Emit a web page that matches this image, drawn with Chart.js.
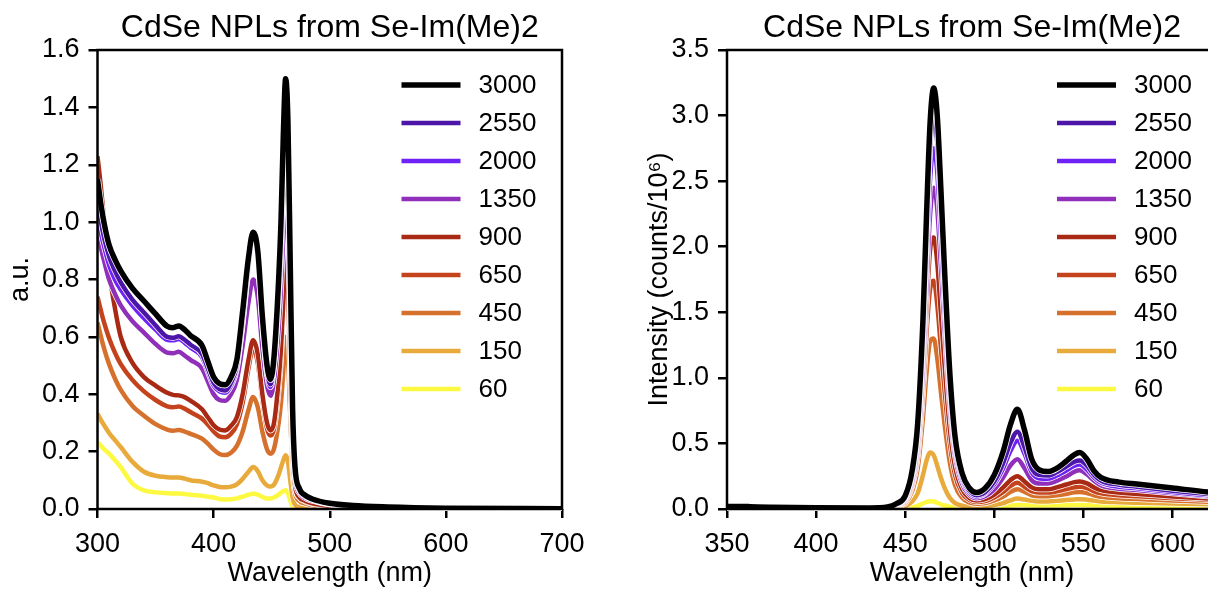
<!DOCTYPE html>
<html>
<head>
<meta charset="utf-8">
<script src="https://cdn.jsdelivr.net/npm/chart.js@4.4.1/dist/chart.umd.min.js"></script>
<style>
  body { margin: 0; background: #fff; overflow: hidden; }
  #wrap { position: relative; width: 1208px; height: 592px; overflow: hidden; }
  #absBox { position: absolute; left: 0; top: 0; }
  #plBox { position: absolute; left: 600px; top: 0; }
</style>
</head>
<body>
<div id="wrap">
  <div id="absBox"><canvas id="graficoAbs" width="600" height="592"></canvas></div>
  <div id="plBox"><canvas id="graficoPL" width="640" height="592"></canvas></div>
</div>
<script>
const titulo = 'CdSe NPLs from Se-Im(Me)2';
const series = ['3000', '2550', '2000', '1350', '900', '650', '450', '150', '60'];
const cores = ['#000000', '#4c17a8', '#6f22f6', '#8f2fba', '#a92a14', '#c5431c', '#d6712d', '#e9aa3c', '#fdf941'];

// absorption (left)
const absX = [300,303,306,310,315,320,330,340,350,360,365,370,375,380,390,395,400,405,410,415,420,425,430,434,438,442,446,449,452,456,458,460,462,464,466,468,470,474,478,485,500,520,550,600,700];
const abs3000 = [1.15,1.06,0.99,0.92,0.87,0.83,0.77,0.725,0.68,0.637,0.632,0.638,0.625,0.605,0.57,0.515,0.46,0.437,0.433,0.46,0.52,0.69,0.875,0.965,0.90,0.67,0.50,0.452,0.53,0.80,1.0,1.3,1.5,1.35,0.85,0.35,0.15,0.07,0.05,0.035,0.02,0.012,0.007,0.003,0.001];
const abs2550 = [1.08,1.0,0.94,0.88,0.83,0.79,0.73,0.685,0.64,0.60,0.597,0.602,0.59,0.573,0.54,0.49,0.44,0.418,0.413,0.44,0.50,0.66,0.85,0.95,0.88,0.65,0.48,0.435,0.51,0.77,0.96,1.25,1.44,1.30,0.82,0.34,0.145,0.068,0.048,0.034,0.019,0.011,0.006,0.003,0.001];
const abs2000 = [1.03,0.96,0.91,0.85,0.80,0.765,0.71,0.665,0.625,0.59,0.588,0.593,0.58,0.563,0.53,0.48,0.43,0.41,0.405,0.43,0.49,0.65,0.84,0.955,0.87,0.64,0.47,0.425,0.50,0.72,0.88,1.10,1.25,1.12,0.72,0.30,0.13,0.062,0.045,0.032,0.018,0.01,0.006,0.003,0.001];
const abs1350 = [0.97,0.91,0.86,0.80,0.75,0.71,0.655,0.615,0.575,0.545,0.543,0.548,0.535,0.52,0.49,0.445,0.40,0.38,0.377,0.40,0.45,0.57,0.72,0.80,0.74,0.56,0.43,0.395,0.45,0.63,0.77,0.95,1.08,0.97,0.62,0.26,0.11,0.055,0.04,0.029,0.016,0.009,0.005,0.002,0.001];
const abs900 = [1.23,1.12,0.99,0.83,0.70,0.60,0.51,0.46,0.43,0.405,0.398,0.396,0.39,0.378,0.348,0.32,0.292,0.277,0.274,0.29,0.32,0.40,0.52,0.588,0.54,0.40,0.30,0.274,0.30,0.45,0.56,0.72,0.90,0.80,0.49,0.20,0.085,0.04,0.03,0.02,0.011,0.006,0.004,0.002,0.001];
const abs650 = [0.74,0.69,0.645,0.595,0.545,0.505,0.45,0.41,0.38,0.358,0.355,0.357,0.35,0.338,0.315,0.295,0.27,0.253,0.25,0.262,0.295,0.37,0.49,0.56,0.51,0.38,0.28,0.256,0.28,0.42,0.53,0.69,0.86,0.75,0.46,0.19,0.08,0.038,0.028,0.018,0.01,0.006,0.003,0.002,0.001];
const abs450 = [0.65,0.60,0.555,0.505,0.455,0.415,0.36,0.325,0.296,0.277,0.273,0.275,0.27,0.262,0.245,0.228,0.207,0.192,0.188,0.196,0.22,0.27,0.345,0.39,0.355,0.27,0.208,0.193,0.21,0.30,0.37,0.48,0.60,0.53,0.33,0.14,0.06,0.028,0.02,0.013,0.007,0.004,0.002,0.001,0];
const abs150 = [0.333,0.31,0.29,0.265,0.24,0.216,0.165,0.13,0.116,0.111,0.11,0.11,0.106,0.10,0.095,0.09,0.082,0.077,0.076,0.078,0.086,0.105,0.13,0.146,0.132,0.10,0.082,0.078,0.085,0.12,0.145,0.17,0.187,0.165,0.10,0.04,0.015,0.006,0.004,0.003,0.002,0.001,0.001,0,0];
const abs60 = [0.233,0.22,0.207,0.193,0.17,0.146,0.089,0.065,0.058,0.055,0.054,0.054,0.052,0.05,0.046,0.043,0.04,0.035,0.033,0.034,0.037,0.043,0.05,0.053,0.05,0.042,0.037,0.037,0.04,0.05,0.057,0.062,0.065,0.055,0.03,0.01,0.003,0.001,0,0,0,0,0,0,0];
const absXTicks = [300, 400, 500, 600, 700];
const absYTicks = [0, 0.2, 0.4, 0.6, 0.8, 1.0, 1.2, 1.4, 1.6];

// photoluminescence (right)
const plX = [350,355,360,363,367,375,400,430,440,445,450,454,457,460,462,464,466,468,470,472,475,478,482,486,490,495,500,505,509,513,517,521,525,530,535,540,545,548,552,556,560,570,580,600,620,640];
const pl3000 = [0.02,0.02,0.02,0.018,0.016,0.014,0.01,0.008,0.015,0.04,0.10,0.30,0.65,1.45,2.25,2.95,3.21,3.0,2.45,1.85,1.05,0.55,0.27,0.16,0.125,0.16,0.26,0.44,0.64,0.76,0.60,0.38,0.30,0.285,0.31,0.36,0.415,0.43,0.38,0.29,0.24,0.205,0.19,0.16,0.13,0.11];
const pl2550 = [0.015,0.015,0.015,0.014,0.013,0.011,0.008,0.006,0.012,0.035,0.09,0.27,0.60,1.35,2.10,2.75,3.0,2.8,2.28,1.72,0.97,0.50,0.24,0.14,0.105,0.13,0.21,0.35,0.50,0.59,0.47,0.31,0.26,0.255,0.28,0.32,0.36,0.37,0.33,0.26,0.215,0.185,0.17,0.14,0.115,0.095];
const pl2000 = [0.015,0.015,0.015,0.013,0.012,0.01,0.007,0.005,0.011,0.032,0.082,0.25,0.55,1.24,1.93,2.52,2.75,2.57,2.09,1.58,0.89,0.46,0.22,0.125,0.095,0.12,0.19,0.31,0.44,0.52,0.42,0.28,0.235,0.23,0.255,0.29,0.33,0.34,0.30,0.24,0.20,0.17,0.158,0.13,0.105,0.088];
const pl1350 = [0.012,0.012,0.012,0.011,0.01,0.009,0.006,0.004,0.01,0.028,0.073,0.22,0.49,1.1,1.72,2.25,2.45,2.29,1.86,1.41,0.79,0.41,0.19,0.11,0.082,0.10,0.15,0.24,0.33,0.38,0.31,0.22,0.195,0.195,0.215,0.245,0.285,0.295,0.265,0.215,0.18,0.155,0.145,0.12,0.098,0.082];
const pl900 = [0.01,0.012,0.014,0.011,0.009,0.008,0.005,0.003,0.008,0.025,0.065,0.20,0.45,1.02,1.55,1.98,2.07,1.88,1.5,1.12,0.62,0.32,0.15,0.085,0.065,0.075,0.11,0.165,0.22,0.25,0.21,0.165,0.15,0.15,0.165,0.185,0.205,0.21,0.195,0.165,0.145,0.125,0.115,0.095,0.08,0.068];
const pl650 = [0.01,0.015,0.02,0.014,0.01,0.008,0.005,0.003,0.007,0.022,0.058,0.18,0.40,0.90,1.35,1.68,1.74,1.56,1.24,0.92,0.51,0.26,0.12,0.07,0.053,0.06,0.088,0.13,0.175,0.20,0.17,0.135,0.125,0.125,0.135,0.15,0.165,0.17,0.16,0.135,0.12,0.105,0.097,0.082,0.07,0.06];
const pl450 = [0.01,0.018,0.028,0.018,0.01,0.007,0.004,0.002,0.005,0.017,0.045,0.14,0.31,0.70,1.04,1.28,1.30,1.15,0.9,0.66,0.36,0.18,0.085,0.05,0.04,0.045,0.065,0.095,0.13,0.15,0.13,0.105,0.097,0.097,0.105,0.115,0.127,0.13,0.122,0.105,0.093,0.082,0.076,0.065,0.056,0.048];
const pl150 = [0.008,0.018,0.03,0.018,0.008,0.005,0.003,0.002,0.003,0.008,0.02,0.06,0.12,0.26,0.37,0.43,0.41,0.33,0.24,0.165,0.085,0.045,0.025,0.018,0.016,0.02,0.03,0.045,0.065,0.08,0.072,0.062,0.058,0.058,0.062,0.068,0.073,0.075,0.071,0.064,0.058,0.052,0.048,0.042,0.036,0.031];
const pl60 = [0.005,0.006,0.008,0.006,0.005,0.004,0.002,0.001,0.001,0.003,0.006,0.013,0.024,0.042,0.054,0.06,0.057,0.047,0.036,0.027,0.018,0.013,0.011,0.01,0.01,0.012,0.016,0.021,0.026,0.03,0.029,0.027,0.026,0.026,0.027,0.029,0.03,0.03,0.029,0.027,0.026,0.024,0.023,0.021,0.019,0.017];
const plXTicks = [350, 400, 450, 500, 550, 600];
const plYTicks = [0, 0.5, 1.0, 1.5, 2.0, 2.5, 3.0, 3.5];

const fonte = "'Liberation Sans', Arial, sans-serif";

function montaDatasets(xs, listas) {
    return listas.map((ys, i) => ({
        label: series[i],
        data: xs.map((x, j) => ({ x: x, y: ys[j] })),
        borderColor: cores[i],
        borderWidth: i === 0 ? 5.5 : 4.5,
        pointRadius: 0,
        cubicInterpolationMode: 'monotone',
        fill: false
    }));
}

// thin white edge under each line, like the reference
const contorno = {
    id: 'contorno',
    beforeDatasetDraw(chart, args) {
        const pts = args.meta.data;
        const ds = chart.data.datasets[args.index];
        const area = chart.chartArea;
        const ctx = chart.ctx;
        if (args.meta.dataset && args.meta.dataset.updateControlPoints) {
            args.meta.dataset.updateControlPoints(area, 'x');
        }
        ctx.save();
        ctx.beginPath();
        ctx.rect(area.left, area.top - 10, area.right - area.left, area.bottom - area.top + 12);
        ctx.clip();
        ctx.beginPath();
        pts.forEach((p, i) => {
            if (i === 0) { ctx.moveTo(p.x, p.y); return; }
            const q = pts[i - 1];
            if (q.cp2x !== undefined && p.cp1x !== undefined) {
                ctx.bezierCurveTo(q.cp2x, q.cp2y, p.cp1x, p.cp1y, p.x, p.y);
            } else {
                ctx.lineTo(p.x, p.y);
            }
        });
        ctx.strokeStyle = '#ffffff';
        ctx.lineWidth = ds.borderWidth + 1.5;
        ctx.lineJoin = 'round';
        ctx.stroke();
        ctx.restore();
    }
};

const moldura = {
    id: 'moldura',
    afterDatasetsDraw(chart) {
        const a = chart.chartArea;
        const ctx = chart.ctx;
        ctx.save();
        ctx.strokeStyle = '#000';
        ctx.lineWidth = 2.5;
        ctx.strokeRect(a.left, a.top, a.right - a.left, a.bottom - a.top);
        ctx.restore();
    },
    afterDraw(chart, args, opts) {
        const a = chart.chartArea;
        const ctx = chart.ctx;
        ctx.save();
        ctx.fillStyle = '#000';
        ctx.textAlign = 'center';
        ctx.textBaseline = 'middle';
        ctx.font = '32px ' + fonte;
        ctx.fillText(titulo, (a.left + a.right) / 2, 28);

        ctx.font = '26px ' + fonte;
        ctx.textAlign = 'left';
        chart.data.datasets.forEach((ds, i) => {
            const y = a.top + 35 + i * 38;
            ctx.beginPath();
            ctx.moveTo(a.left + opts.x, y);
            ctx.lineTo(a.left + opts.x + 59, y);
            ctx.strokeStyle = ds.borderColor;
            ctx.lineWidth = ds.borderWidth;
            ctx.stroke();
            ctx.fillStyle = '#000';
            ctx.fillText(ds.label, a.left + opts.x + 77, y + 1);
        });
        ctx.restore();
    }
};

function eixos(xMin, xMax, xTicks, yMax, yTicks, yTitulo, yLargura, yPad) {
    return {
        x: {
            type: 'linear', min: xMin, max: xMax,
            afterBuildTicks: s => { s.ticks = xTicks.map(v => ({ value: v })); },
            afterFit: s => { s.height = 83; },
            grid: { drawOnChartArea: false, color: '#000', lineWidth: 2.5, tickLength: 9 },
            border: { display: false },
            ticks: { color: '#000', font: { family: fonte, size: 27 }, padding: 10, maxRotation: 0, autoSkip: false, callback: v => String(v) },
            title: { display: true, text: 'Wavelength (nm)', color: '#000', font: { family: fonte, size: 27 }, padding: { top: 0, bottom: 2 } }
        },
        y: {
            type: 'linear', min: 0, max: yMax,
            afterBuildTicks: s => { s.ticks = yTicks.map(v => ({ value: v })); },
            afterFit: s => { s.width = yLargura; },
            grid: { drawOnChartArea: false, color: '#000', lineWidth: 2.5, tickLength: 9 },
            border: { display: false },
            ticks: { color: '#000', font: { family: fonte, size: 27 }, padding: 9, autoSkip: false, callback: v => v.toFixed(1) },
            title: { display: true, text: yTitulo, color: '#000', font: { family: fonte, size: 27 }, padding: { top: yPad, bottom: 0 } }
        }
    };
}

const graficoAbs = new Chart(document.getElementById('graficoAbs'), {
    type: 'line',
    data: { datasets: montaDatasets(absX, [abs3000, abs2550, abs2000, abs1350, abs900, abs650, abs450, abs150, abs60]) },
    options: {
        responsive: false,
        animation: false,
        layout: { padding: { top: 50, left: 0, right: 38, bottom: 0 } },
        scales: eixos(300, 700, absXTicks, 1.6, absYTicks, 'a.u.', 97.5, 4),
        plugins: { legend: { display: false }, tooltip: { enabled: false }, moldura: { x: 304 } }
    },
    plugins: [contorno, moldura]
});

const graficoPL = new Chart(document.getElementById('graficoPL'), {
    type: 'line',
    data: { datasets: montaDatasets(plX, [pl3000, pl2550, pl2000, pl1350, pl900, pl650, pl450, pl150, pl60]) },
    options: {
        responsive: false,
        animation: false,
        layout: { padding: { top: 50, left: 0, right: 23, bottom: 0 } },
        scales: eixos(350, 625, plXTicks, 3.5, plYTicks, 'Intensity (counts/10\u2076)', 127, 43),
        plugins: { legend: { display: false }, tooltip: { enabled: false }, moldura: { x: 330 } }
    },
    plugins: [contorno, moldura]
});
</script>
</body>
</html>
